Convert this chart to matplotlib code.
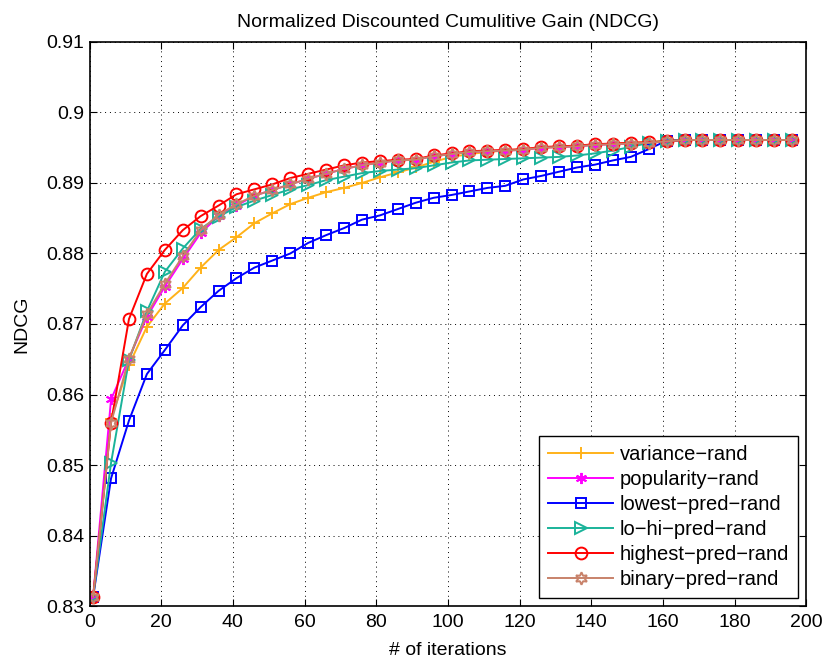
import matplotlib
matplotlib.use("Agg")
import matplotlib.pyplot as plt
import numpy as np

plt.rcParams["font.family"] = ["Liberation Sans", "DejaVu Sans"]

# iterations sampled every 5 steps
iters = np.arange(1, 200, 5)

variance_rand = [0.8313, 0.8565, 0.8642, 0.8696, 0.8729, 0.8751, 0.8780, 0.8805,
                 0.8823, 0.8843, 0.8857, 0.8870, 0.8879, 0.8887, 0.8893, 0.8900,
                 0.8908, 0.8915, 0.8922, 0.8930, 0.8937, 0.8941, 0.8944, 0.8946,
                 0.8948, 0.8950, 0.8951, 0.8953, 0.8954, 0.8956, 0.8957, 0.8958,
                 0.8960, 0.8961, 0.8961, 0.8961, 0.8961, 0.8961, 0.8961, 0.8961]
popularity_rand = [0.8313, 0.8593, 0.8651, 0.8710, 0.8753, 0.8792, 0.8829, 0.8853,
                   0.8868, 0.8882, 0.8890, 0.8898, 0.8906, 0.8913, 0.8920, 0.8925,
                   0.8929, 0.8932, 0.8933, 0.8938, 0.8941, 0.8944, 0.8945, 0.8946,
                   0.8947, 0.8950, 0.8951, 0.8952, 0.8954, 0.8955, 0.8956, 0.8957,
                   0.8959, 0.8961, 0.8961, 0.8961, 0.8961, 0.8961, 0.8961, 0.8961]
lowest_pred_rand = [0.8313, 0.8481, 0.8563, 0.8629, 0.8663, 0.8698, 0.8724, 0.8747,
                    0.8765, 0.8780, 0.8790, 0.8800, 0.8815, 0.8826, 0.8836, 0.8848,
                    0.8854, 0.8863, 0.8872, 0.8879, 0.8883, 0.8888, 0.8893, 0.8896,
                    0.8905, 0.8910, 0.8916, 0.8922, 0.8926, 0.8932, 0.8937, 0.8948,
                    0.8960, 0.8961, 0.8961, 0.8961, 0.8961, 0.8961, 0.8961, 0.8961]
lohi_pred_rand = [0.8313, 0.8503, 0.8649, 0.8718, 0.8774, 0.8807, 0.8835, 0.8852,
                  0.8866, 0.8875, 0.8883, 0.8891, 0.8897, 0.8904, 0.8909, 0.8914,
                  0.8917, 0.8919, 0.8921, 0.8925, 0.8929, 0.8932, 0.8933, 0.8934,
                  0.8935, 0.8936, 0.8937, 0.8939, 0.8942, 0.8946, 0.8951, 0.8957,
                  0.8960, 0.8961, 0.8961, 0.8961, 0.8961, 0.8961, 0.8961, 0.8961]
highest_pred_rand = [0.8313, 0.8560, 0.8707, 0.8771, 0.8805, 0.8833, 0.8853, 0.8868,
                     0.8884, 0.8891, 0.8898, 0.8907, 0.8913, 0.8919, 0.8925, 0.8929,
                     0.8931, 0.8933, 0.8934, 0.8939, 0.8942, 0.8945, 0.8946, 0.8947,
                     0.8948, 0.8951, 0.8952, 0.8953, 0.8955, 0.8956, 0.8957, 0.8958,
                     0.8959, 0.8961, 0.8961, 0.8961, 0.8961, 0.8961, 0.8961, 0.8961]
binary_pred_rand = [0.8313, 0.8560, 0.8651, 0.8714, 0.8757, 0.8796, 0.8833, 0.8855,
                    0.8870, 0.8882, 0.8890, 0.8898, 0.8906, 0.8913, 0.8920, 0.8925,
                    0.8929, 0.8932, 0.8933, 0.8938, 0.8941, 0.8944, 0.8945, 0.8946,
                    0.8947, 0.8950, 0.8951, 0.8952, 0.8954, 0.8955, 0.8956, 0.8957,
                    0.8959, 0.8961, 0.8961, 0.8961, 0.8961, 0.8961, 0.8961, 0.8961]

series = [
    ("variance\u2212rand", variance_rand, "#FFB21A", "+", 9),
    ("popularity\u2212rand", popularity_rand, "#FF00FF", (6, 2, 0), 8),
    ("lowest\u2212pred\u2212rand", lowest_pred_rand, "#0000FF", "s", 7.5),
    ("lo\u2212hi\u2212pred\u2212rand", lohi_pred_rand, "#1AB39A", ">", 8.5),
    ("highest\u2212pred\u2212rand", highest_pred_rand, "#FF0000", "o", 8.5),
    ("binary\u2212pred\u2212rand", binary_pred_rand, "#C8826A", (6, 1, 0), 9),
]

fig = plt.figure(figsize=(8.23, 6.59), dpi=100)
ax = fig.add_axes([0.1088, 0.0804, 0.8710, 0.8559])

for name, vals, col, mk, ms in series:
    ax.plot(iters, vals, color=col, marker=mk, markersize=ms, linewidth=1.4,
            markerfacecolor="none", markeredgecolor=col, markeredgewidth=1.4,
            label=name)

ax.set_xlim(0, 200)
ax.set_ylim(0.83, 0.91)
ax.set_xticks(np.arange(0, 201, 20))
ax.set_yticks(np.arange(0.83, 0.9101, 0.01))
ax.set_yticklabels(["0.83", "0.84", "0.85", "0.86", "0.87", "0.88", "0.89", "0.9", "0.91"])
ax.tick_params(direction="in", top=True, right=True, labelsize=14, length=5, width=0.8)
ax.tick_params(axis="x", pad=6)
ax.tick_params(axis="y", pad=4)
ax.grid(True, color="black", linestyle=(0, (1, 4)), linewidth=0.7)
for sp in ax.spines.values():
    sp.set_linewidth(1.2)

ax.set_xlabel("# of iterations", fontsize=14, labelpad=8)
ax.set_ylabel("NDCG", fontsize=14, labelpad=11)
ax.set_title("Normalized Discounted Cumulitive Gain (NDCG)", fontsize=14, pad=11)

leg = ax.legend(loc="lower right", fontsize=14.5, frameon=True, fancybox=False,
                edgecolor="black", handlelength=3.2, borderaxespad=0.4,
                labelspacing=0.3, handletextpad=0.35, borderpad=0.45)
leg.get_frame().set_linewidth(1.0)
leg.get_frame().set_alpha(1.0)

fig.savefig("out.png", dpi=100)
